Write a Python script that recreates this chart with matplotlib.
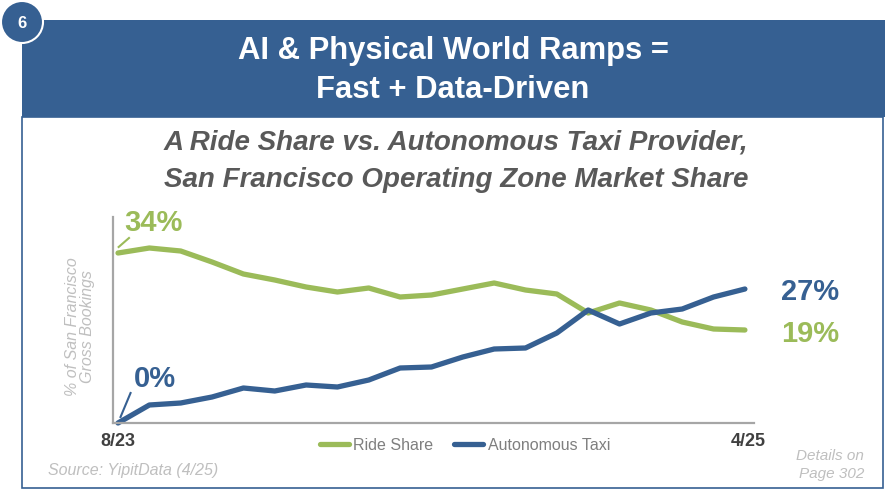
import matplotlib as mpl
mpl.use('Agg')
import matplotlib.pyplot as plt  # noqa
from matplotlib.patches import Rectangle, Ellipse  # noqa

W, H = 885, 490
BLUE = '#366092'
GREEN = '#9BBB59'

months = ['8/23', '9/23', '10/23', '11/23', '12/23', '1/24', '2/24', '3/24',
          '4/24', '5/24', '6/24', '7/24', '8/24', '9/24', '10/24', '11/24',
          '12/24', '1/25', '2/25', '3/25', '4/25']
ride_share = [34.0, 35.0, 34.4, 32.2, 29.8, 28.6, 27.2, 26.2, 27.0, 25.2,
              25.6, 26.8, 28.0, 26.6, 25.8, 22.0, 24.0, 22.6, 20.2, 18.8,
              18.6]
autonomous_taxi = [0.0, 3.6, 4.0, 5.2, 7.0, 6.4, 7.6, 7.2, 8.6, 11.0, 11.2,
                   13.2, 14.8, 15.0, 18.0, 22.6, 19.8, 22.0, 22.8, 25.2, 26.8]
end_labels = ['34%', '0%', '27%', '19%']
tick_labels = ['8/23', '4/25']


def fx(px):
    return px / W


def fy(py):
    return 1 - py / H


fig = plt.figure(figsize=(W / 100, H / 100), dpi=100)
fig.patch.set_facecolor('white')
font = 'Liberation Sans'

# frame and header
fig.patches.append(Rectangle((fx(22), fy(488)), fx(883) - fx(22),
                             fy(117) - fy(488), transform=fig.transFigure,
                             fill=False, ec=BLUE, lw=1.2))
fig.patches.append(Rectangle((fx(22), fy(117)), 1 - fx(22),
                             fy(20) - fy(117), transform=fig.transFigure,
                             fc=BLUE, ec='none'))
fig.patches.append(Ellipse((fx(22), fy(22)), 42 / W, 42 / H,
                           transform=fig.transFigure,
                           fc=BLUE, ec='white', lw=1.5))
fig.text(fx(22), fy(23), '6', color='white', fontsize=12, fontweight='bold',
         ha='center', va='center', family=font)
fig.text(fx(453), fy(51), 'AI & Physical World Ramps =', color='white',
         fontsize=22.3, fontweight='bold', ha='center', va='center',
         family=font)
fig.text(fx(453), fy(90), 'Fast + Data-Driven', color='white',
         fontsize=22.3, fontweight='bold', ha='center', va='center',
         family=font)
fig.text(fx(456), fy(143), 'A Ride Share vs. Autonomous Taxi Provider,',
         color='#595959', fontsize=20, fontweight='bold', style='italic',
         ha='center', va='center', family=font)
fig.text(fx(456), fy(180), 'San Francisco Operating Zone Market Share',
         color='#595959', fontsize=20, fontweight='bold', style='italic',
         ha='center', va='center', family=font)

# chart
ax = fig.add_axes([fx(113), fy(423), fx(754) - fx(113), fy(217) - fy(423)])
x = list(range(len(months)))
ax.plot(x, ride_share, color=GREEN, lw=3.8, solid_capstyle='round',
        clip_on=False, label='Ride Share')
ax.plot(x, autonomous_taxi, color=BLUE, lw=3.8, solid_capstyle='round',
        clip_on=False, label='Autonomous Taxi')
ax.set_xlim(-0.16, 20.29)
ax.set_ylim(0, 41.2)
for s in ['top', 'right']:
    ax.spines[s].set_visible(False)
for s in ['left', 'bottom']:
    ax.spines[s].set_color('#A6A6A6')
    ax.spines[s].set_linewidth(1.6)
ax.set_xticks([])
ax.set_yticks([])

ax.plot([0.02, 0.35], [35.2, 37.0], color=GREEN, lw=1.5, clip_on=False)
ax.plot([0.08, 0.4], [1.2, 6.0], color=BLUE, lw=1.5, clip_on=False)
fig.text(fx(124), fy(223), end_labels[0], color=GREEN, fontsize=21,
         fontweight='bold', va='center', family=font)
fig.text(fx(134), fy(379), end_labels[1], color=BLUE, fontsize=21,
         fontweight='bold', va='center', family=font)
fig.text(fx(781), fy(292), end_labels[2], color=BLUE, fontsize=21,
         fontweight='bold', va='center', family=font)
fig.text(fx(781), fy(334), end_labels[3], color=GREEN, fontsize=21,
         fontweight='bold', va='center', family=font)

fig.text(fx(118), fy(441), tick_labels[0], color='#404040', fontsize=13,
         fontweight='bold', ha='center', va='center', family=font)
fig.text(fx(748), fy(441), tick_labels[1], color='#404040', fontsize=13,
         fontweight='bold', ha='center', va='center', family=font)

leg = ax.legend(loc='center',
                bbox_to_anchor=((465 - 113) / (754 - 113),
                                (fy(445) - fy(423)) / (fy(217) - fy(423))),
                ncol=2, frameon=False, handlelength=1.8, columnspacing=1.3,
                handletextpad=0.3, prop={'family': font, 'size': 11.5})
for t in leg.get_texts():
    t.set_color('#7F7F7F')

fig.text(fx(80), fy(327), '% of San Francisco\nGross Bookings',
         color='#BFBFBF', fontsize=11.5, style='italic', rotation=90,
         ha='center', va='center', family=font, linespacing=1.0)
fig.text(fx(48), fy(470), 'Source: YipitData (4/25)', color='#BFBFBF',
         fontsize=11.5, style='italic', ha='left', va='center', family=font)
fig.text(fx(864), fy(465), 'Details on\nPage 302', color='#BFBFBF',
         fontsize=11, style='italic', ha='right', va='center', family=font,
         linespacing=1.3)

fig.savefig('out.png', dpi=100)
